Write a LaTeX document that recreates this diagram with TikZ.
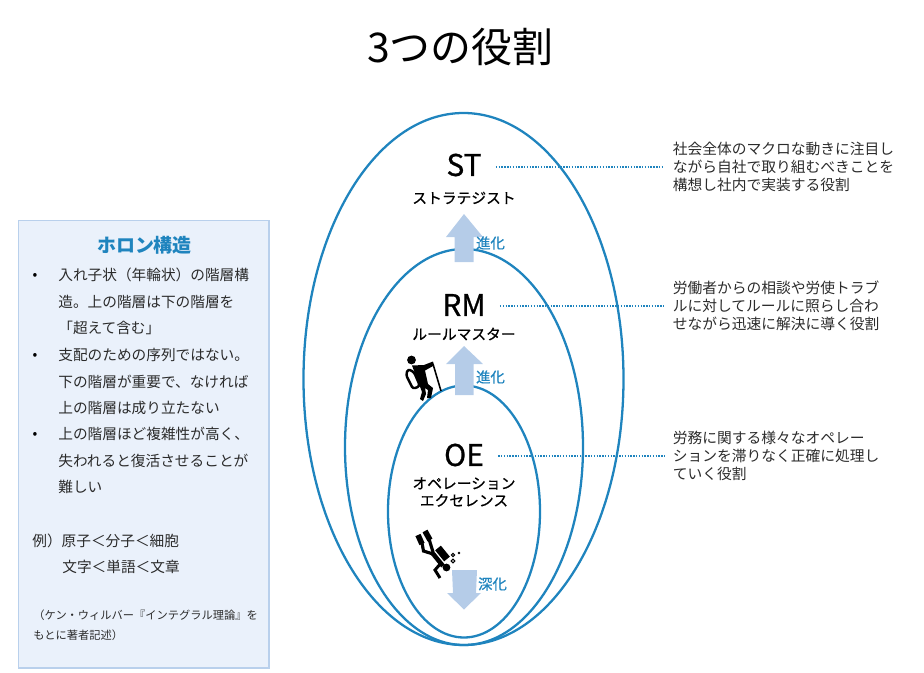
\documentclass[tikz,border=0pt]{standalone}
\usepackage{fontspec}
\setmainfont{Noto Sans CJK JP}
\newfontfamily\halfbold[FakeBold=0.8]{Noto Sans CJK JP}
\usetikzlibrary{calc}
\definecolor{ringblue}{HTML}{1F84BE}
\definecolor{arrowblue}{HTML}{B5CCE8}
\definecolor{panelblue}{HTML}{EAF1FB}
\definecolor{panelline}{HTML}{B9D0EC}
\definecolor{bodygray}{HTML}{2B2B2B}
\newcommand{\zenL}{\char"FF08\relax}
\newcommand{\zenR}{\char"FF09\relax}
\newcommand{\zenLt}{\char"FF1C\relax}
\tikzset{
    ring/.style={draw=ringblue, line width=1.3pt},
    flowarrow/.style={fill=arrowblue, draw=none},
    rolecode/.style={font=\fontsize{17}{20}\halfbold\selectfont, text=black, inner sep=0pt},
    rolename/.style={font=\fontsize{8.4}{9.8}\halfbold\selectfont, align=center, inner sep=0pt},
    flowlabel/.style={font=\fontsize{8.2}{10}\halfbold\selectfont, text=ringblue, inner sep=0pt},
    roletext/.style={font=\fontsize{8.4}{10.2}\selectfont, text=bodygray, align=left, anchor=west, inner xsep=4.5pt, inner ysep=0pt},
    leader/.style={draw=ringblue, line width=0.8pt, dash pattern=on 0.8pt off 0.8pt},
    paneltext/.style={font=\fontsize{8.35}{15}\selectfont, text=bodygray, align=left, anchor=north west, inner sep=0pt},
    panelbullet/.style={font=\fontsize{8}{10}\selectfont, text=black, inner sep=0pt},
    notetext/.style={font=\fontsize{6.4}{11.3}\selectfont, text=bodygray, align=left, anchor=north west, inner sep=0pt}
}
\begin{document}
\begin{tikzpicture}[x=0.02cm, y=-0.02cm]
    \useasboundingbox (0,0) rectangle (924,673);

    \node (title) [font=\fontsize{23.3}{26}\selectfont, inner sep=0pt] at (460.5,47) {3つの役割};

    % left panel
    \draw [fill=panelblue, draw=panelline, line width=0.8pt] (18.5,220.5) rectangle (269,668);
    \node (holon) [font=\fontsize{10.8}{13}\bfseries\selectfont, text=ringblue, inner sep=0pt] at (144.5,245) {ホロン構造};
    \node (bul1) [panelbullet] at (35,276) {•};
    \node (bul2) [panelbullet] at (35,356) {•};
    \node (bul3) [panelbullet] at (35,435) {•};
    \node (item1) [paneltext] at (58,268) {入れ子状\zenL 年輪状\zenR の階層構\\造。上の階層は下の階層を\\「超えて含む」};
    \node (item2) [paneltext] at (58,348) {支配のための序列ではない。\\下の階層が重要で、なければ\\上の階層は成り立たない};
    \node (item3) [paneltext] at (58,427) {上の階層ほど複雑性が高く、\\失われると復活させることが\\難しい};
    \node (ex1) [paneltext] at (32,534) {例\zenR 原子\zenLt 分子\zenLt 細胞};
    \node (ex2) [paneltext] at (62,560) {文字\zenLt 単語\zenLt 文章};
    \node (note) [notetext] at (33,610) {\zenL ケン・ウィルバー『インテグラル理論』を\\もとに著者記述\zenR};

    % nested rings
    \draw [ring] (463.5,379) ellipse (160 and 266);
    \draw [ring] (464,447) ellipse (119 and 198);
    \draw [ring] (464,511.5) ellipse (76 and 126);

    % arrows
    \fill [flowarrow] (464,214) -- (483,237) -- (473.5,237) -- (473.5,262) -- (454.5,262) -- (454.5,237) -- (446,237) -- cycle;
    \fill [flowarrow] (464,346) -- (483,364) -- (473.5,364) -- (473.5,395) -- (455,395) -- (455,364) -- (446,364) -- cycle;
    \fill [flowarrow] (452,570) -- (477,570) -- (476,593) -- (481,593) -- (464,609.5) -- (447,593) -- (453,593) -- cycle;
    \node (evo1) [flowlabel] at (490.5,243) {進化};
    \node (evo2) [flowlabel] at (490.5,377) {進化};
    \node (deep) [flowlabel] at (492.5,584) {深化};

    % roles
    \node (st) [rolecode] at (464,165) {ST};
    \node (stname) [rolename] at (464,198) {ストラテジスト};
    \node (rm) [rolecode] at (464,305) {RM};
    \node (rmname) [rolename] at (464,334) {ルールマスター};
    \node (oe) [rolecode] at (464,455) {OE};
    \node (oename) [rolename] at (464,492) {オペレーション\\エクセレンス};

    % role descriptions
    \node (sttext) [roletext] at (664.5,167) {社会全体のマクロな動きに注目し\\ながら自社で取り組むべきことを\\構想し社内で実装する役割};
    \node (rmtext) [roletext] at (664.5,306) {労働者からの相談や労使トラブ\\ルに対してルールに照らし合わ\\せながら迅速に解決に導く役割};
    \node (oetext) [roletext] at (664.5,456) {労務に関する様々なオペレー\\ションを滞りなく正確に処理し\\ていく役割};
    \draw [leader] ($(st.east |- sttext.west)+(14,0)$) -- (sttext.west);
    \draw [leader] ($(rm.east |- rmtext.west)+(14,0)$) -- (rmtext.west);
    \draw [leader] ($(oe.east |- oetext.west)+(14,0)$) -- (oetext.west);

    % climber
    \fill (411.5,360) circle (4.4);
    \fill (412,365.5) -- (424,365) -- (433,361.5) -- (434,365.5) -- (425,370.5) -- (428,384) -- (433,388) -- (431,398) -- (427,398) -- (428,390) -- (425,388) -- (426,394) -- (423,401) -- (420,399) -- (422,392) -- (419,384) -- cycle;
    \draw [line width=0.9pt] (433,364) -- (441,391);
    \draw [line width=1.4pt, rounded corners=1.5pt] (408,369) -- (414,372) -- (420,386) -- (413,389) -- (406,375) -- cycle;

    % diver
    \fill (446.5,567.5) circle (3.9);
    \draw [line width=2.6pt] (432,552.5) -- (443,566);
    \draw [line width=4.2pt] (438,548) -- (447,559);
    \draw [line width=1.8pt] (422,543) -- (423.5,551) -- (433,554);
    \draw [line width=1.8pt] (429,539) -- (433,552);
    \draw [line width=3.2pt] (418,535) -- (422,544);
    \draw [line width=3.2pt] (425,531) -- (430,540);
    \draw [line width=1.7pt] (441,563) -- (435,570) -- (440,578);
    \draw [line width=0.6pt] (453,555) circle (1.6);
    \draw [line width=0.6pt] (453,561) circle (1.8);
    \fill (459,553) circle (1.3);
\end{tikzpicture}
\end{document}
